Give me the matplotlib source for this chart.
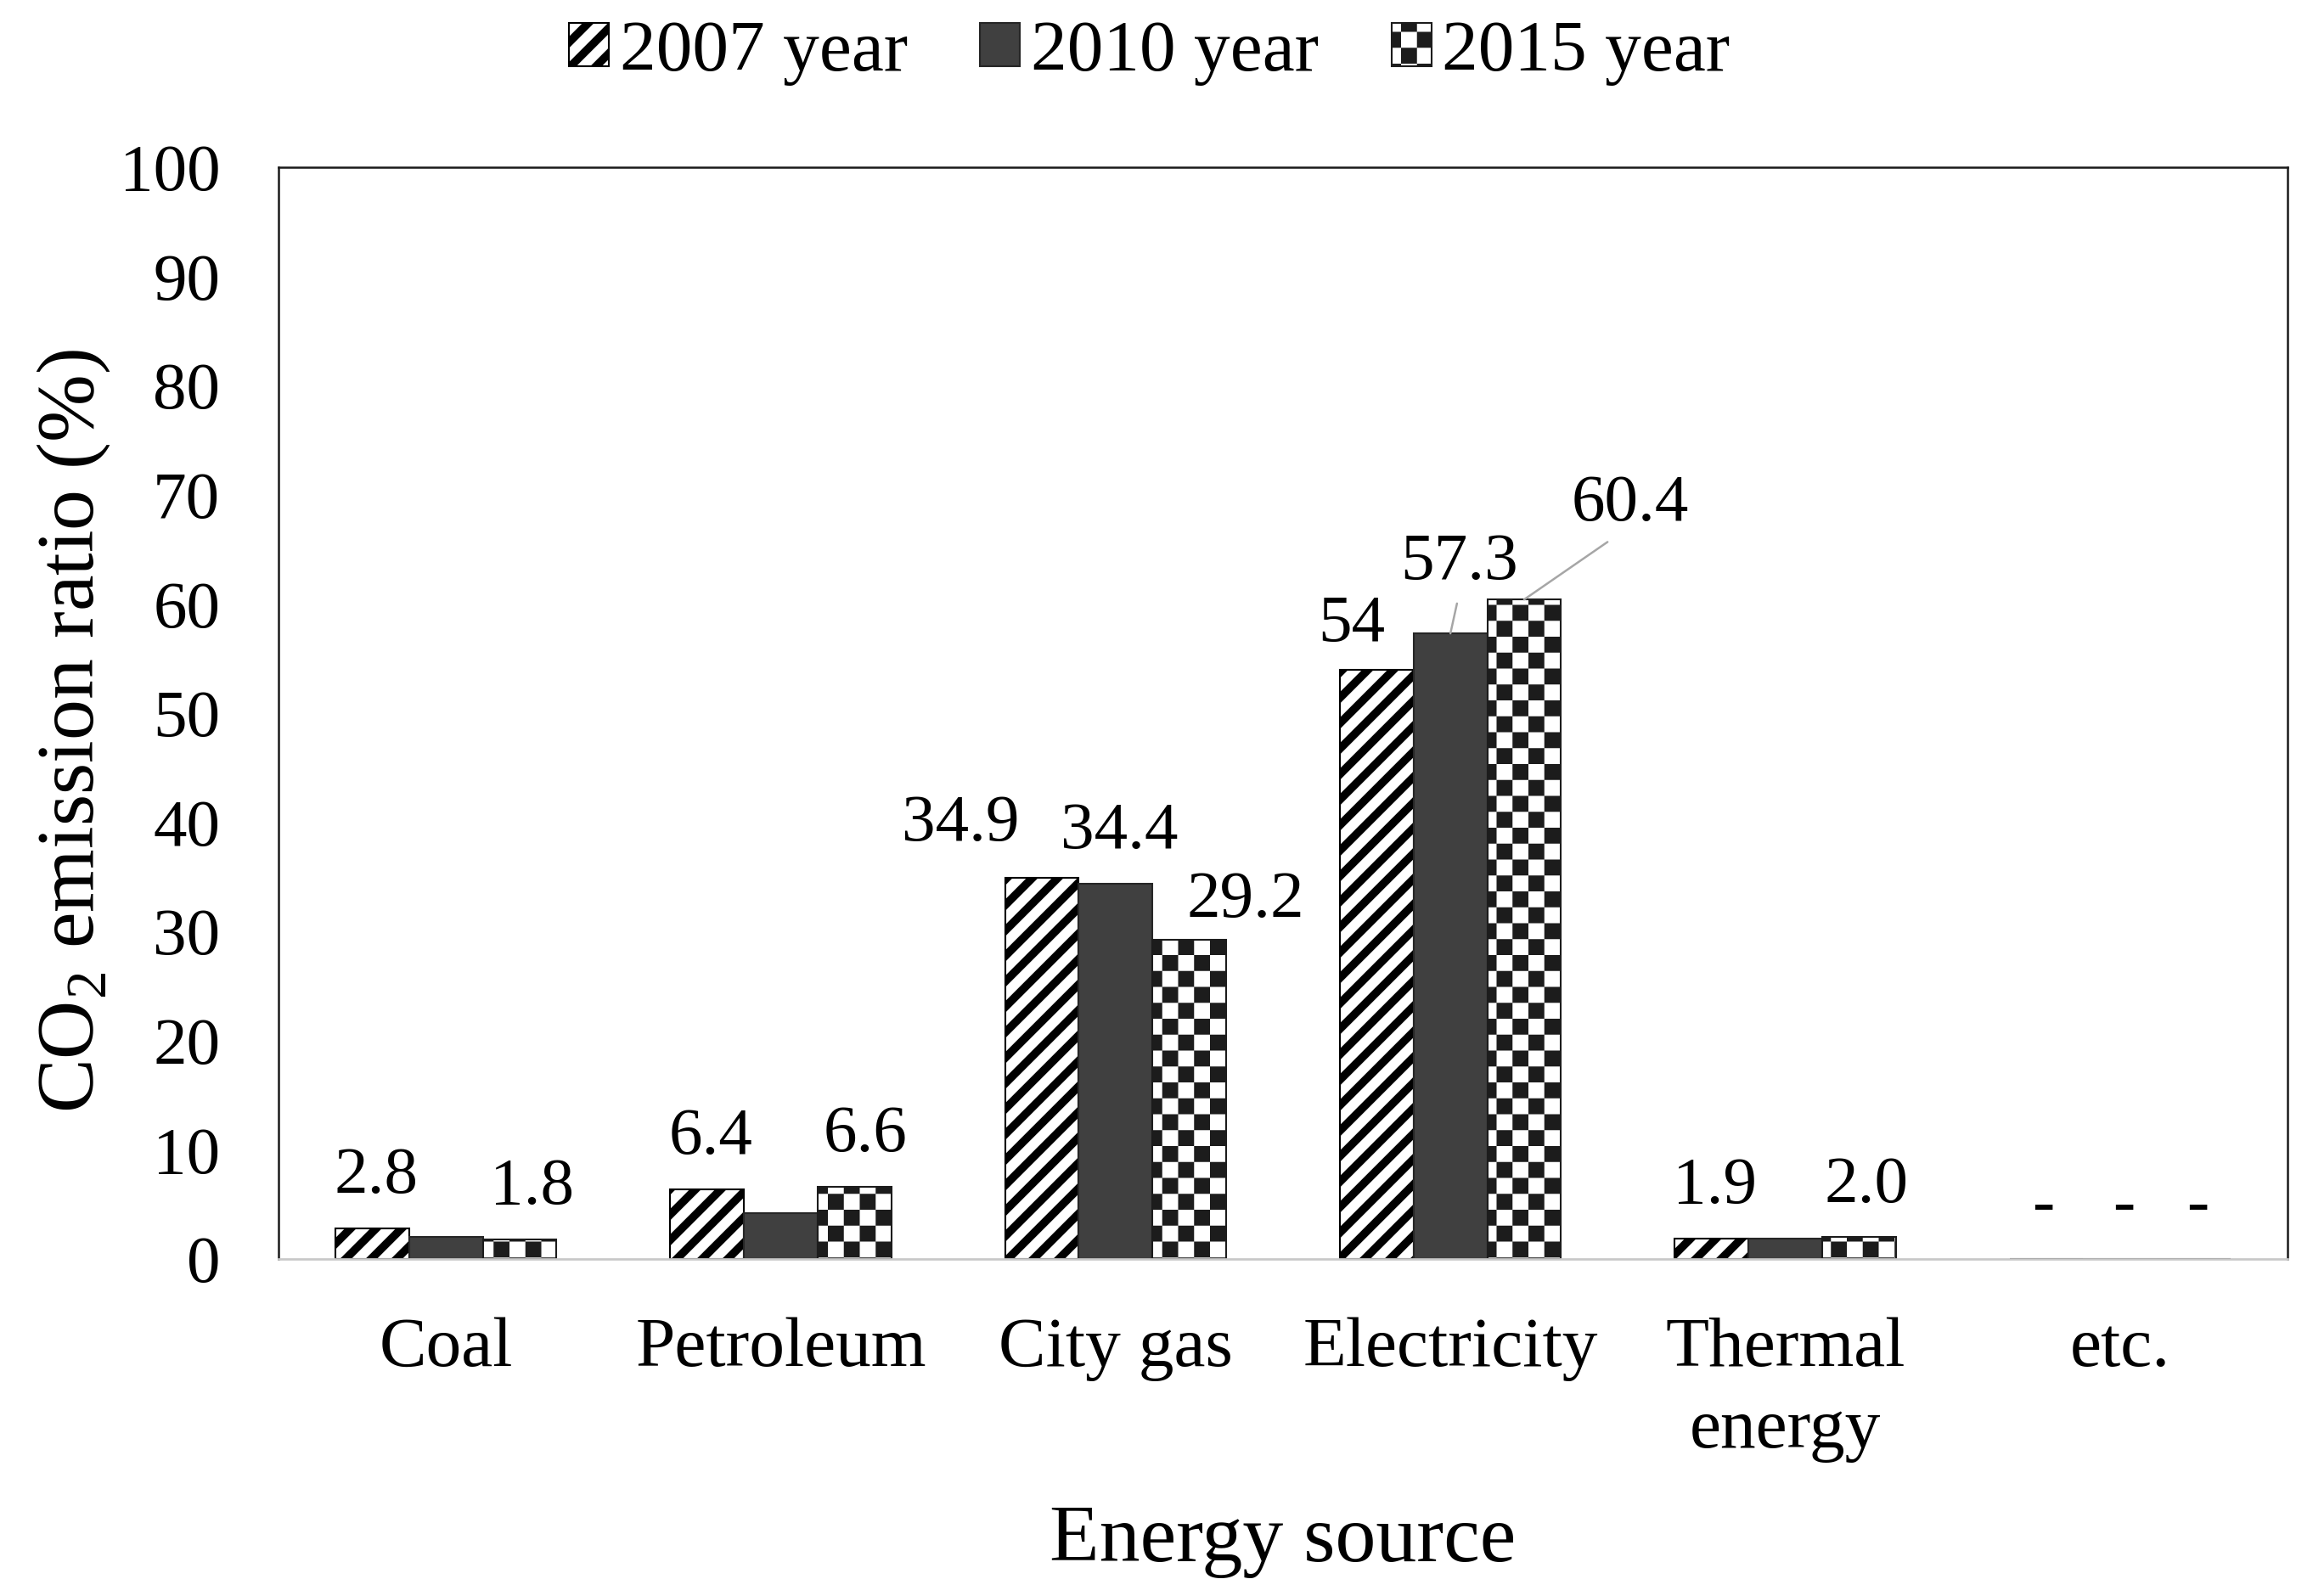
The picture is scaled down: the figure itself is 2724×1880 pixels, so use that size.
import numpy as np
import matplotlib
matplotlib.use("Agg")
import matplotlib.pyplot as plt
import matplotlib.hatch as mhatch
from matplotlib.path import Path

# ---------------- data ----------------
categories = ["Coal", "Petroleum", "City gas", "Electricity", "Thermal\nenergy", "etc."]
series_names = ["2007 year", "2010 year", "2015 year"]
v2007 = [2.8, 6.4, 34.9, 54.0, 1.9, 0.0]
v2010 = [2.0, 4.2, 34.4, 57.3, 1.9, 0.0]
v2015 = [1.8, 6.6, 29.2, 60.4, 2.0, 0.0]
labels_2007 = ["2.8", "6.4", "34.9", "54", "1.9", "-"]
labels_2010 = [None, None, "34.4", "57.3", None, "-"]
labels_2015 = ["1.8", "6.6", "29.2", "60.4", "2.0", "-"]
yticks = [0, 10, 20, 30, 40, 50, 60, 70, 80, 90, 100]


# ---------------- custom filled hatches ----------------
class StripeHatch:
    """Thick '/' stripes drawn as filled bands."""
    def __init__(self, hatch, density):
        self.n = 5 if '/' in hatch else 0
        self.h = 0.045
        self.num_vertices = (2 * self.n + 1) * 5 if self.n else 0

    def set_vertices_and_codes(self, vertices, codes):
        n, h = self.n, self.h
        idx = 0
        for k in range(-n, n + 1):
            c = k / n
            pts = [(-0.2, -0.2 + c - h), (1.2, 1.2 + c - h),
                   (1.2, 1.2 + c + h), (-0.2, -0.2 + c + h), (-0.2, -0.2 + c - h)]
            vertices[idx:idx + 5] = pts
            codes[idx:idx + 5] = [Path.MOVETO, Path.LINETO, Path.LINETO,
                                  Path.LINETO, Path.CLOSEPOLY]
            idx += 5


class CheckerHatch:
    """Checkerboard of filled squares."""
    def __init__(self, hatch, density):
        self.n = 8 if '*' in hatch else 0
        self.num_vertices = (self.n * self.n // 2) * 5 if self.n else 0

    def set_vertices_and_codes(self, vertices, codes):
        n = self.n
        s = 1.0 / n
        idx = 0
        for i in range(n):
            for j in range(n):
                if (i + j) % 2 == 0:
                    x0, y0 = i * s, j * s
                    pts = [(x0, y0), (x0 + s, y0), (x0 + s, y0 + s),
                           (x0, y0 + s), (x0, y0)]
                    vertices[idx:idx + 5] = pts
                    codes[idx:idx + 5] = [Path.MOVETO, Path.LINETO, Path.LINETO,
                                          Path.LINETO, Path.CLOSEPOLY]
                    idx += 5


mhatch._hatch_types[:] = [StripeHatch, CheckerHatch]

# ---------------- style ----------------
plt.rcParams['font.family'] = ['Liberation Serif', 'DejaVu Serif']
plt.rcParams['hatch.linewidth'] = 0.01

DPI = 150
fig = plt.figure(figsize=(2724 / DPI, 1880 / DPI), dpi=DPI)
ax = fig.add_axes([0.1204, 0.2112, 0.98899 - 0.1204, 0.8952 - 0.2112])

x = np.arange(len(categories))
w = 0.22
bars07 = ax.bar(x - w, v2007, w, facecolor='white', edgecolor='black',
                linewidth=1.0, hatch='/', label=series_names[0])
bars10 = ax.bar(x, v2010, w, facecolor='#404040', edgecolor='#262626',
                linewidth=1.0, label=series_names[1])
bars15 = ax.bar(x + w, v2015, w, facecolor='white', edgecolor='#1c1c1c',
                linewidth=1.0, hatch='*', label=series_names[2])

ax.set_xlim(-0.5, len(categories) - 0.5)
ax.set_ylim(0, 100)
ax.set_yticks(yticks)
ax.set_xticks(x)
ax.set_xticklabels(categories)
for t in ax.get_xticklabels():
    t.set_linespacing(1.35)
ax.tick_params(axis='both', length=0)
ax.tick_params(axis='y', pad=33, labelsize=38)
ax.tick_params(axis='x', pad=33, labelsize=40)

for side in ['left', 'top', 'right']:
    ax.spines[side].set_color('#1a1a1a')
    ax.spines[side].set_linewidth(1.2)
ax.spines['bottom'].set_color('#c8c8c8')
ax.spines['bottom'].set_linewidth(1.3)

ax.set_ylabel(r'CO$_\mathregular{2}$ emission ratio (%)', fontsize=46)
ax.yaxis.set_label_coords(-0.083, 0.484)
ax.set_xlabel('Energy source', fontsize=46)
ax.xaxis.set_label_coords(0.5, -0.225)

# ---------------- data labels ----------------
default_off = (2, 20)
offsets = {
    (0, 5): (-2, 20),
    (2, 0): (7, 20),
    (2, 1): (6, 20),
    (2, 4): (4, 20),
    (0, 2): (-46, 21),
    (2, 2): (32, 13),
    (0, 3): (-14, 16),
    (1, 3): (5, 31),
    (2, 3): (60, 45),
}
leaders = {(1, 3): (0.5, 0.0), (2, 3): (0.4, 0.0)}

all_vals = [v2007, v2010, v2015]
all_labels = [labels_2007, labels_2010, labels_2015]
shifts = [-w, 0.0, w]
for s in range(3):
    for c in range(len(categories)):
        lab = all_labels[s][c]
        if lab is None:
            continue
        dx, dy = offsets.get((s, c), default_off)
        kw = {}
        if (s, c) in leaders:
            kw['arrowprops'] = dict(arrowstyle='-', color='#a6a6a6', lw=1.2,
                                    shrinkA=4, shrinkB=0,
                                    relpos=leaders[(s, c)])
        ax.annotate(lab, xy=(x[c] + shifts[s], all_vals[s][c]),
                    xytext=(dx, dy), textcoords='offset points',
                    ha='center', va='baseline', fontsize=38, **kw)

# ---------------- legend ----------------
fig.legend(handles=[bars07, bars10, bars15], loc='center',
           bbox_to_anchor=(0.497, 0.967), bbox_transform=fig.transFigure,
           ncol=3, frameon=False, fontsize=41, handlelength=0.55,
           handleheight=0.55, handletextpad=0.15, columnspacing=1.0,
           borderaxespad=0)

fig.savefig('out.png', dpi=DPI)
